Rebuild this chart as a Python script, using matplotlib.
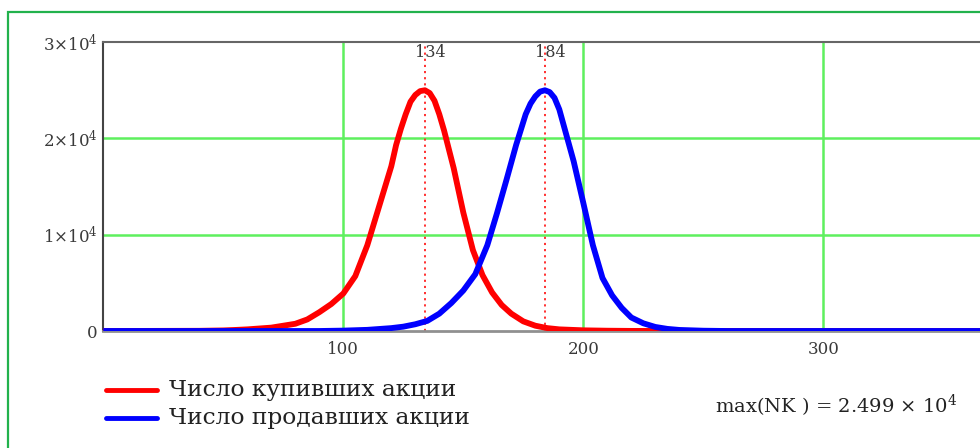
import matplotlib
matplotlib.use("Agg")
import matplotlib.pyplot as plt
from matplotlib.lines import Line2D
from matplotlib.patches import Rectangle

# ---- data ----
x_buy = [0, 40, 50, 55, 60, 70, 80, 85, 90, 95, 100, 105, 110, 115, 120, 122,
         124, 126, 128, 130, 132, 134, 136, 138, 140, 142, 146, 150, 154, 158,
         162, 166, 170, 175, 180, 185, 190, 200, 210, 220, 240, 400]
y_buy = [0, 20, 60, 110, 170, 350, 750, 1200, 1950, 2800, 3890, 5700, 8900,
         13000, 17100, 19300, 21000, 22500, 23800, 24500, 24900, 24990, 24700,
         23900, 22500, 20800, 16900, 12300, 8400, 5800, 4000, 2700, 1800, 1000,
         550, 300, 170, 70, 30, 10, 0, 0]

x_sell = [0, 90, 100, 110, 120, 125, 130, 135, 140, 145, 150, 155, 160, 164,
          168, 172, 176, 178, 180, 182, 184, 186, 188, 190, 192, 196, 200, 204,
          208, 212, 216, 220, 225, 230, 235, 240, 250, 260, 400]
y_sell = [0, 0, 40, 120, 300, 450, 700, 1050, 1800, 2900, 4200, 5900, 8900,
          12200, 15700, 19300, 22500, 23600, 24350, 24850, 24990, 24800, 24200,
          23000, 21200, 17600, 13300, 8900, 5500, 3700, 2400, 1400, 800, 420,
          220, 110, 30, 0, 0]

markers = [134, 184]
x_ticks = [100, 200, 300]
y_ticks = [0, 10000, 20000, 30000]
y_tick_labels = ["0", r"$1{\times}10^{4}$", r"$2{\times}10^{4}$", r"$3{\times}10^{4}$"]
legend_labels = ["Число купивших акции", "Число продавших акции"]
max_text = r"max(NK ) = 2.499 $\times$ 10$^{4}$"

plt.rcParams["mathtext.fontset"] = "dejavuserif"
plt.rcParams["font.family"] = ["DejaVu Serif"]

W, H = 980, 448
fig = plt.figure(figsize=(W / 100, H / 100), dpi=100)
fig.patch.set_facecolor("white")

# outer green frame (only left/top visible)
fig.patches.append(Rectangle((8 / W, -0.1), 1.2, (H - 12) / H + 0.1,
                             transform=fig.transFigure, fill=False,
                             edgecolor="#22b24c", linewidth=1.6))

x0_px, y0_px, ytop_px = 103.3, 331, 42
ax = fig.add_axes([x0_px / W, (H - y0_px) / H, 400 * 2.4 / W, (y0_px - ytop_px) / H])
ax.set_xlim(0, 400)
ax.set_ylim(0, 30000)
ax.set_facecolor("white")

grid_c = "#5ef05e"
for xv in x_ticks:
    ax.axvline(xv, color=grid_c, lw=1.8, zorder=1)
for yv in y_ticks[1:3]:
    ax.axhline(yv, color=grid_c, lw=1.8, zorder=1)

for m in markers:
    ax.axvline(m, color="#ff2020", lw=1.3, ls=(0, (1.2, 2.2)), zorder=2)
    ax.text(m + 2.2, 29750, str(m), ha="center", va="top", fontsize=11.5,
            color="#3a3a3a", zorder=5)

ax.plot(x_buy, y_buy, color="#ff0000", lw=4.2, zorder=3, solid_capstyle="butt",
        solid_joinstyle="round")
ax.plot(x_sell, y_sell, color="#0000ff", lw=4.2, zorder=4, solid_capstyle="butt",
        solid_joinstyle="round")

ax.set_xticks(x_ticks)
ax.set_xticklabels([str(v) for v in x_ticks])
ax.set_yticks(y_ticks)
ax.set_yticklabels(y_tick_labels)
ax.tick_params(axis="both", length=0, labelsize=12, colors="#3a3a3a")
ax.tick_params(axis="x", pad=7)
ax.tick_params(axis="y", pad=4)

ax.spines["left"].set_color("#444444")
ax.spines["left"].set_linewidth(1.5)
ax.spines["top"].set_color("#666666")
ax.spines["top"].set_linewidth(1.5)
ax.spines["bottom"].set_color("#909090")
ax.spines["bottom"].set_linewidth(2)
ax.spines["right"].set_visible(False)

# legend drawn in figure coordinates
for i, (lab, col) in enumerate(zip(legend_labels, ["#ff0000", "#0000ff"])):
    yy = (H - (390 + 28 * i)) / H
    fig.add_artist(Line2D([106 / W, 157 / W], [yy, yy], color=col, lw=3.5,
                          transform=fig.transFigure, solid_capstyle="round"))
    fig.text(169 / W, yy, lab, fontsize=16.8, color="#222222", va="center", ha="left")

fig.text(715 / W, (H - 406) / H, max_text, fontsize=14, color="#222222",
         va="center", ha="left")

fig.savefig("out.png", dpi=100)
